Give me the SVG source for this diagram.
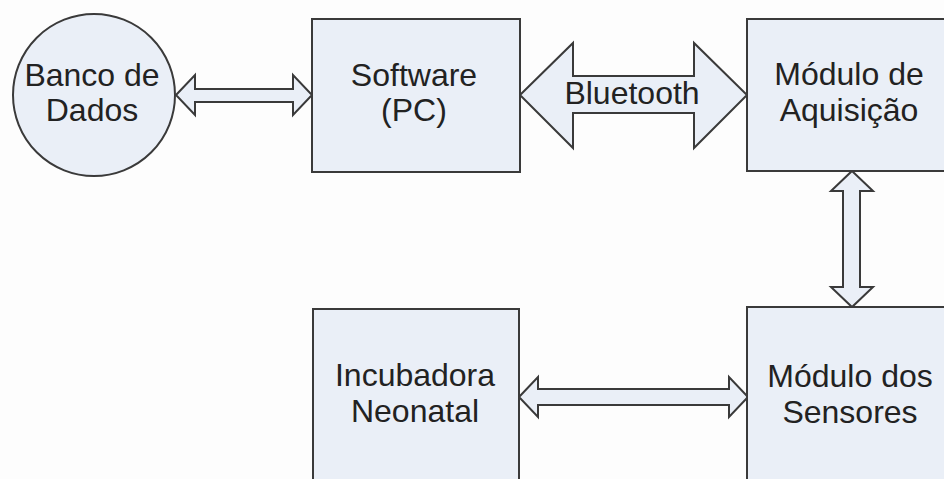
<svg xmlns="http://www.w3.org/2000/svg" width="944" height="479" viewBox="0 0 944 479">
  <style>
    .shape { fill: #eaeff7; stroke: #3a3a3a; stroke-width: 2; }
    .arrow { fill: #eaeff7; stroke: #3a3a3a; stroke-width: 2; stroke-linejoin: miter; }
    text { font-family: "Liberation Sans", Arial, sans-serif; font-size: 32px; fill: #222; text-anchor: middle; }
  </style>
  <rect width="944" height="479" fill="#fdfdfd"/>

  <g id="connectors">
    <!-- Banco de Dados <-> Software -->
    <polygon class="arrow" points="176,95 195,75 195,89 293,89 293,75 312,95 293,115 293,102 195,102 195,115"/>
    <!-- Software <-> Modulo de Aquisicao (Bluetooth) -->
    <polygon class="arrow" points="520,95 573,43 573,76 694,76 694,43 747,95 694,148 694,113 573,113 573,148"/>
    <!-- Modulo de Aquisicao <-> Modulo dos Sensores -->
    <polygon class="arrow" points="852,171 873,191 860,191 860,287 873,287 852,307 831,287 843,287 843,191 831,191"/>
    <!-- Incubadora <-> Modulo dos Sensores -->
    <polygon class="arrow" points="519,397 538,377 538,389 729,389 729,377 748,397 729,417 729,405 538,405 538,417"/>
    <text x="632" y="104">Bluetooth</text>
  </g>

  <g id="banco">
    <circle class="shape" cx="94" cy="95" r="81"/>
    <text x="92" y="86">Banco de</text>
    <text x="92" y="121">Dados</text>
  </g>

  <g id="software">
    <rect class="shape" x="312" y="19" width="208" height="153"/>
    <text x="414" y="86">Software</text>
    <text x="414" y="121">(PC)</text>
  </g>

  <g id="aquisicao">
    <rect class="shape" x="747" y="19" width="220" height="152"/>
    <text x="849" y="85">Módulo de</text>
    <text x="849" y="121">Aquisição</text>
  </g>

  <g id="sensores">
    <rect class="shape" x="747" y="307" width="220" height="200"/>
    <text x="850" y="387">Módulo dos</text>
    <text x="850" y="423">Sensores</text>
  </g>

  <g id="incubadora">
    <rect class="shape" x="313" y="309" width="206" height="200"/>
    <text x="415" y="386">Incubadora</text>
    <text x="415" y="422">Neonatal</text>
  </g>
</svg>
